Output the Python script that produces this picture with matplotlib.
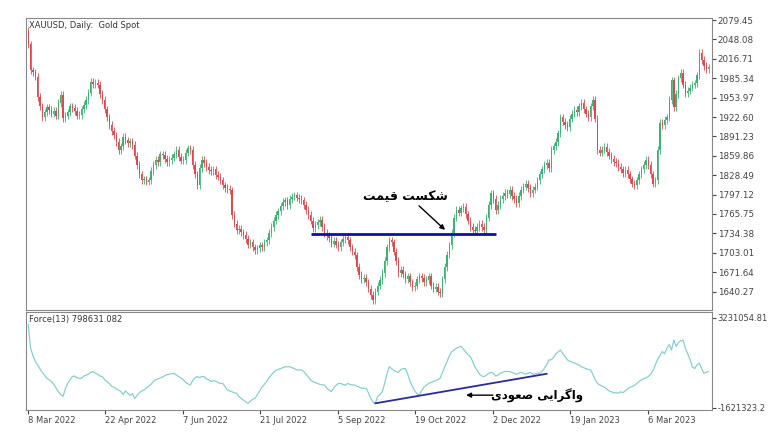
import matplotlib
matplotlib.use("Agg")
import matplotlib.pyplot as plt
import numpy as np

first_open = 2062
closes = [
2040, 1998, 1995, 1988, 1955, 1940, 1922, 1930, 1938, 1934,
1928, 1932, 1925, 1945, 1958, 1921, 1925, 1930, 1940, 1937,
1932, 1925, 1926, 1935, 1942, 1950, 1962, 1979, 1976, 1978,
1975, 1960, 1950, 1935, 1922, 1910, 1900, 1893, 1882, 1869,
1875, 1890, 1885, 1880, 1883, 1877, 1860, 1845, 1830, 1820,
1822, 1818, 1820, 1835, 1845, 1853, 1850, 1862, 1861, 1855,
1850, 1853, 1857, 1862, 1869, 1858, 1852, 1853, 1865, 1872,
1869, 1845, 1830, 1812, 1840, 1853, 1848, 1842, 1837, 1835,
1838, 1829, 1826, 1820, 1812, 1808, 1806, 1804, 1764, 1750,
1740, 1742, 1736, 1732, 1725, 1716, 1720, 1712, 1707, 1710,
1715, 1712, 1720, 1723, 1735, 1745, 1755, 1764, 1770, 1778,
1785, 1788, 1780, 1790, 1794, 1796, 1792, 1790, 1788, 1780,
1772, 1764, 1755, 1743, 1748, 1752, 1756, 1745, 1735, 1730,
1727, 1718, 1722, 1716, 1712, 1720, 1725, 1728, 1723, 1712,
1705, 1699, 1680, 1667, 1660, 1662, 1655, 1645, 1635, 1627,
1640, 1650, 1659, 1670, 1690, 1712, 1723, 1720, 1705, 1690,
1670, 1675, 1668, 1660, 1665, 1655, 1648, 1650, 1660, 1665,
1662, 1655, 1659, 1665, 1650, 1645, 1648, 1640, 1638, 1660,
1680, 1700, 1715, 1735, 1760, 1772, 1768, 1775, 1777, 1765,
1755, 1745, 1740, 1738, 1745, 1750, 1745, 1740, 1760, 1780,
1799, 1790, 1772, 1780, 1790, 1795, 1800, 1798, 1805, 1795,
1790, 1783, 1795, 1805, 1810, 1815, 1808, 1800, 1805, 1810,
1820, 1830, 1838, 1845, 1848, 1840, 1869, 1875, 1882, 1896,
1922, 1915, 1910, 1906, 1920, 1928, 1934, 1930, 1940, 1945,
1935, 1928, 1922, 1940, 1950, 1920, 1869, 1865, 1870, 1874,
1866, 1860, 1855, 1850, 1848, 1842, 1838, 1832, 1837, 1830,
1822, 1815, 1812, 1820, 1830, 1838, 1845, 1853, 1845, 1830,
1815, 1820, 1869, 1913, 1910, 1918, 1922, 1950, 1982, 1939,
1960, 1985, 1994, 1975, 1961, 1965, 1970, 1975, 1977, 1990,
2026, 2015, 2005, 2000, 2003]

force_m = [
2.85, 1.6, 1.2, 0.9, 0.7, 0.5, 0.3, 0.15, -0.02, -0.1,
-0.2, -0.35, -0.55, -0.74, -0.9, -1.0, -0.6, -0.3, -0.1, 0.07,
0.1, 0.0, -0.02, -0.02, 0.1, 0.15, 0.2, 0.3, 0.34, 0.25,
0.2, 0.1, 0.07, -0.1, -0.2, -0.3, -0.45, -0.5, -0.6, -0.65,
-0.74, -0.9, -0.7, -0.83, -0.95, -0.85, -1.1, -0.95, -0.8, -0.7,
-0.65, -0.55, -0.45, -0.35, -0.2, -0.11, -0.05, 0.0, 0.05, 0.12,
0.18, 0.2, 0.22, 0.25, 0.15, 0.07, 0.0, -0.1, -0.25, -0.32,
-0.38, -0.15, 0.0, 0.07, 0.02, 0.07, 0.07, -0.05, -0.1, -0.2,
-0.15, -0.18, -0.25, -0.3, -0.3, -0.45, -0.65, -0.7, -0.75, -0.8,
-0.83, -1.0, -1.1, -1.2, -1.3, -1.37, -1.25, -1.15, -1.1, -0.9,
-0.7, -0.5, -0.35, -0.2, 0.0, 0.15, 0.3, 0.4, 0.45, 0.5,
0.55, 0.6, 0.6, 0.6, 0.55, 0.5, 0.43, 0.43, 0.43, 0.35,
0.2, 0.05, -0.11, -0.2, -0.25, -0.3, -0.35, -0.38, -0.38, -0.55,
-0.65, -0.74, -0.55, -0.4, -0.3, -0.3, -0.35, -0.4, -0.3, -0.35,
-0.38, -0.38, -0.45, -0.5, -0.55, -0.56, -0.56, -0.8, -1.1, -1.3,
-1.37, -1.0, -0.9, -0.74, -0.3, 0.2, 0.6, 0.5, 0.4, 0.34,
0.3, 0.45, 0.5, 0.5, 0.2, -0.2, -0.45, -0.7, -0.85, -0.92,
-0.7, -0.5, -0.4, -0.3, -0.25, -0.2, -0.15, -0.1, -0.02, 0.3,
0.6, 0.88, 1.2, 1.4, 1.5, 1.6, 1.65, 1.7, 1.55, 1.4,
1.25, 1.15, 0.9, 0.6, 0.4, 0.2, 0.1, 0.07, 0.15, 0.25,
0.3, 0.25, 0.1, 0.15, 0.25, 0.3, 0.35, 0.34, 0.34, 0.3,
0.25, 0.2, 0.25, 0.3, 0.25, 0.2, 0.25, 0.3, 0.2, 0.22,
0.25, 0.25, 0.35, 0.5, 0.7, 0.97, 0.97, 1.1, 1.3, 1.4,
1.5, 1.3, 1.15, 0.97, 0.9, 0.85, 0.8, 0.75, 0.7, 0.6,
0.55, 0.5, 0.45, 0.43, 0.2, -0.1, -0.3, -0.38, -0.45, -0.5,
-0.6, -0.7, -0.75, -0.8, -0.8, -0.83, -0.75, -0.8, -0.7, -0.6,
-0.5, -0.47, -0.4, -0.3, -0.2, -0.1, -0.05, 0.0, 0.07, 0.2,
0.4, 0.7, 1.0, 1.2, 1.42, 1.3, 1.6, 1.8, 1.5, 2.04,
1.7, 1.9, 2.0, 2.04, 1.6, 1.3, 1.0, 0.6, 0.5, 0.7,
0.8, 0.5, 0.25, 0.3, 0.34]

price_ticks = [2079.45, 2048.08, 2016.71, 1985.34, 1953.97, 1922.60, 1891.23,
               1859.86, 1828.49, 1797.12, 1765.75, 1734.38, 1703.01, 1671.64, 1640.27]
force_ticks = [3231054.81, -1621323.2]
date_idx = [0, 33, 67, 100, 134, 167, 201, 234, 268]
date_labels = ["8 Mar 2022", "22 Apr 2022", "7 Jun 2022", "21 Jul 2022", "5 Sep 2022",
               "19 Oct 2022", "2 Dec 2022", "19 Jan 2023", "6 Mar 2023"]
break_level = 1734.0
break_span = (122, 202)
div_pts = ([150, 224], [-1.37e6, 0.22e6])

n = min(len(closes), len(force_m))
closes = np.array(closes[:n], float)
opens = np.concatenate([[first_open], closes[:-1]])
force = np.array(force_m[:n]) * 1e6
x = np.arange(n)

W, H = 781, 444
fig = plt.figure(figsize=(W/100, H/100), dpi=100)
ax = fig.add_axes([26/W, (H-310)/H, (712-26)/W, 292/H])
ax2 = fig.add_axes([26/W, (H-410)/H, (712-26)/W, 98/H])

up, dn = "#3bb273", "#e0474f"
wick = 6
for i in range(n):
    o, c = opens[i], closes[i]
    col = up if c >= o else dn
    hi, lo = max(o, c) + wick, min(o, c) - wick
    ax.vlines(i, lo, hi, color=col, lw=0.6)
    ax.bar(i, max(abs(c - o), 0.8), bottom=min(o, c), width=0.6, color=col, lw=0)

ax.hlines(break_level, break_span[0], break_span[1], color="#0a10b0", lw=2)
persian1 = "\ufe96\ufee4\ufbff\ufed7 \ufe96\ufeb4\ufb91\ufeb7"
ax.text(163, 1794, persian1, fontsize=9, fontweight="bold", family="DejaVu Sans",
        ha="center", va="center")
ax.annotate("", xy=(181, 1737), xytext=(168, 1782),
            arrowprops=dict(arrowstyle="-|>", color="black", lw=1, mutation_scale=7))

ax.set_xlim(-1, n + 0.5)
ax.set_ylim(1610.5, 2082.7)
ax.yaxis.tick_right()
ax.set_yticks(price_ticks)
ax.set_yticklabels([f"{v:.2f}" for v in price_ticks])
ax.set_xticks([])
ax.tick_params(axis="y", labelsize=6.3, colors="#444444", length=3, pad=1)
ax.text(0.005, 0.99, "XAUUSD, Daily:  Gold Spot", transform=ax.transAxes,
        fontsize=6, va="top", color="#333333")

ax2.plot(x, force, color="#88cfcc", lw=0.9)
ax2.plot(div_pts[0], div_pts[1], color="#2a2a9c", lw=1.3)
persian2 = "\ufbfc\ufea9\ufeee\ufecc\ufebb \ufbfd\ufbfe\ufe8d\ufeae\ufb94\ufe8d\ufeed"
ax2.text(220, -0.95e6, persian2, fontsize=8.5, fontweight="bold", family="DejaVu Sans",
         va="center", ha="center")
ax2.annotate("", xy=(188, -0.93e6), xytext=(202, -0.93e6),
             arrowprops=dict(arrowstyle="-|>", color="black", lw=1, mutation_scale=7))
ax2.set_xlim(-1, n + 0.5)
ax2.set_ylim(-1.73e6, 3.55e6)
ax2.yaxis.tick_right()
ax2.set_yticks(force_ticks)
ax2.set_yticklabels(["3231054.81", "-1621323.2"])
ax2.set_xticks(date_idx)
ax2.set_xticklabels(date_labels, ha="left")
ax2.tick_params(axis="both", labelsize=6, colors="#444444", length=3, pad=1)
ax2.text(0.005, 0.97, "Force(13) 798631.082", transform=ax2.transAxes,
         fontsize=6, va="top", color="#333333")

for a in (ax, ax2):
    for s in a.spines.values():
        s.set_color("#888888")
        s.set_linewidth(0.8)

fig.savefig("out.png", dpi=100)
